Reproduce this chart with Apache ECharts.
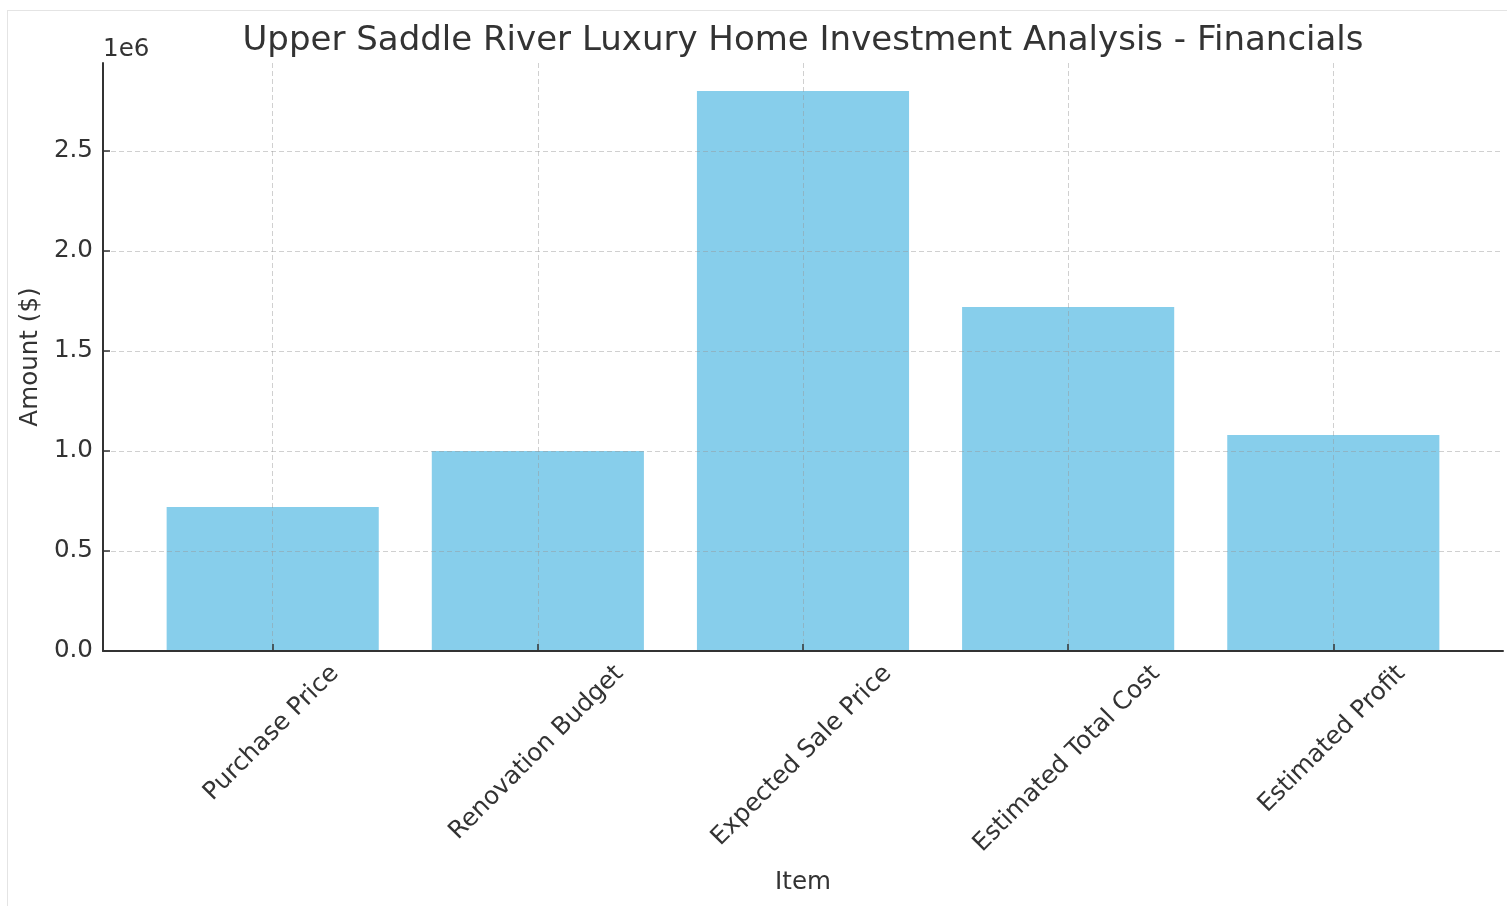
<!DOCTYPE html>
<html>
<head>
    <meta charset="UTF-8">
    <title>Upper Saddle River Luxury Home Investment Analysis - Financials</title>
    <script src="https://cdn.jsdelivr.net/npm/echarts@6/dist/echarts.min.js"></script>
    <style>
        body { margin: 0; background: #fff; }
        #chart { width: 1507px; height: 906px; }
        #frame {
            position: absolute; left: 7px; top: 10px; width: 1500px; height: 896px;
            border-left: 1px solid #e4e4e4; border-top: 1px solid #e4e4e4;
            pointer-events: none;
        }
    </style>
</head>
<body>
    <div id="chart"></div>
    <div id="frame"></div>
    <script>
        // data
        const items = ['Purchase Price', 'Renovation Budget', 'Expected Sale Price', 'Estimated Total Cost', 'Estimated Profit'];
        const amounts = [720000, 1000000, 2800000, 1720000, 1080000];
        const yTicks = [0, 500000, 1000000, 1500000, 2000000, 2500000];

        const FONT = 'DejaVu Sans';
        const TEXT = '#333';
        const tickFont = 24.6;

        // matplotlib-like limits: bars 0.8 wide, 5% margins
        const half = 0.4;
        const span = (items.length - 1) + 2 * half;
        const xMin = -half - 0.05 * span;
        const xMax = items.length - 1 + half + 0.05 * span;
        const yMax = Math.max.apply(null, amounts) * 1.05;

        const gridLeft = 103, gridRight = 4, gridTop = 63, gridBottom = 255;
        const pxPerUnit = (1507 - gridLeft - gridRight) / (xMax - xMin);

        // rotated labels centred on the tick like ha='center' does
        const ctx = document.createElement('canvas').getContext('2d');
        ctx.font = tickFont + 'px "' + FONT + '"';
        const c45 = Math.cos(Math.PI / 4);
        const boxH = tickFont * 1.164;
        const labelPos = items.map(function (name, i) {
            const L = ctx.measureText(name).width;
            return i + ((L - boxH) * c45 / 2) / pxPerUnit;
        });

        const barData = items.map(function (name, i) { return [i, amounts[i]]; });

        const gridLine = { color: 'rgba(150,150,150,0.45)', width: 1, type: [5, 3] };

        const chart = echarts.init(document.getElementById('chart'), null, { renderer: 'canvas' });

        const option = {
            animation: false,
            backgroundColor: '#fff',
            title: [
                {
                    text: 'Upper Saddle River Luxury Home Investment Analysis - Financials',
                    left: (gridLeft + 1507 - gridRight) / 2,
                    textAlign: 'center',
                    top: 24,
                    padding: 0,
                    textStyle: { fontFamily: FONT, fontSize: 34, fontWeight: 'normal', color: TEXT }
                },
                {
                    text: '1e6',
                    left: 103,
                    top: 37,
                    padding: 0,
                    textStyle: { fontFamily: FONT, fontSize: tickFont, fontWeight: 'normal', color: TEXT }
                }
            ],
            grid: { left: gridLeft, right: gridRight, top: gridTop, bottom: gridBottom, containLabel: false },
            xAxis: {
                type: 'value',
                min: xMin,
                max: xMax,
                z: 3,
                name: 'Item',
                nameLocation: 'middle',
                nameGap: 219,
                nameTextStyle: { fontFamily: FONT, fontSize: tickFont, color: TEXT },
                axisLine: { show: true, onZero: false, lineStyle: { color: TEXT, width: 2 } },
                axisTick: { show: true, inside: true, length: 7, customValues: items.map(function (n, i) { return i; }), lineStyle: { color: TEXT, width: 1.5 } },
                axisLabel: {
                    customValues: labelPos,
                    rotate: 45,
                    align: 'right',
                    verticalAlign: 'top',
                    margin: 10,
                    fontFamily: FONT,
                    fontSize: tickFont,
                    color: TEXT,
                    formatter: function (v) { return items[Math.floor(v + 1e-6)]; }
                },
                splitLine: { show: true, lineStyle: gridLine }
            },
            yAxis: {
                type: 'value',
                min: 0,
                max: yMax,
                z: 3,
                name: 'Amount ($)',
                nameLocation: 'middle',
                nameRotate: 90,
                nameGap: 59,
                nameTextStyle: { fontFamily: FONT, fontSize: tickFont, color: TEXT },
                axisLine: { show: true, onZero: false, lineStyle: { color: TEXT, width: 2 } },
                axisTick: { show: true, inside: true, length: 7, customValues: yTicks, lineStyle: { color: TEXT, width: 1.5 } },
                axisLabel: {
                    customValues: yTicks,
                    margin: 10,
                    fontFamily: FONT,
                    fontSize: tickFont,
                    color: TEXT,
                    formatter: function (v) { return (v / 1e6).toFixed(1); }
                },
                splitLine: { show: true, lineStyle: gridLine }
            },
            series: [
                {
                    type: 'bar',
                    data: barData,
                    barWidth: 0.8 * pxPerUnit,
                    itemStyle: { color: '#87CEEB' },
                    z: 2
                }
            ]
        };

        chart.setOption(option);
    </script>
</body>
</html>
